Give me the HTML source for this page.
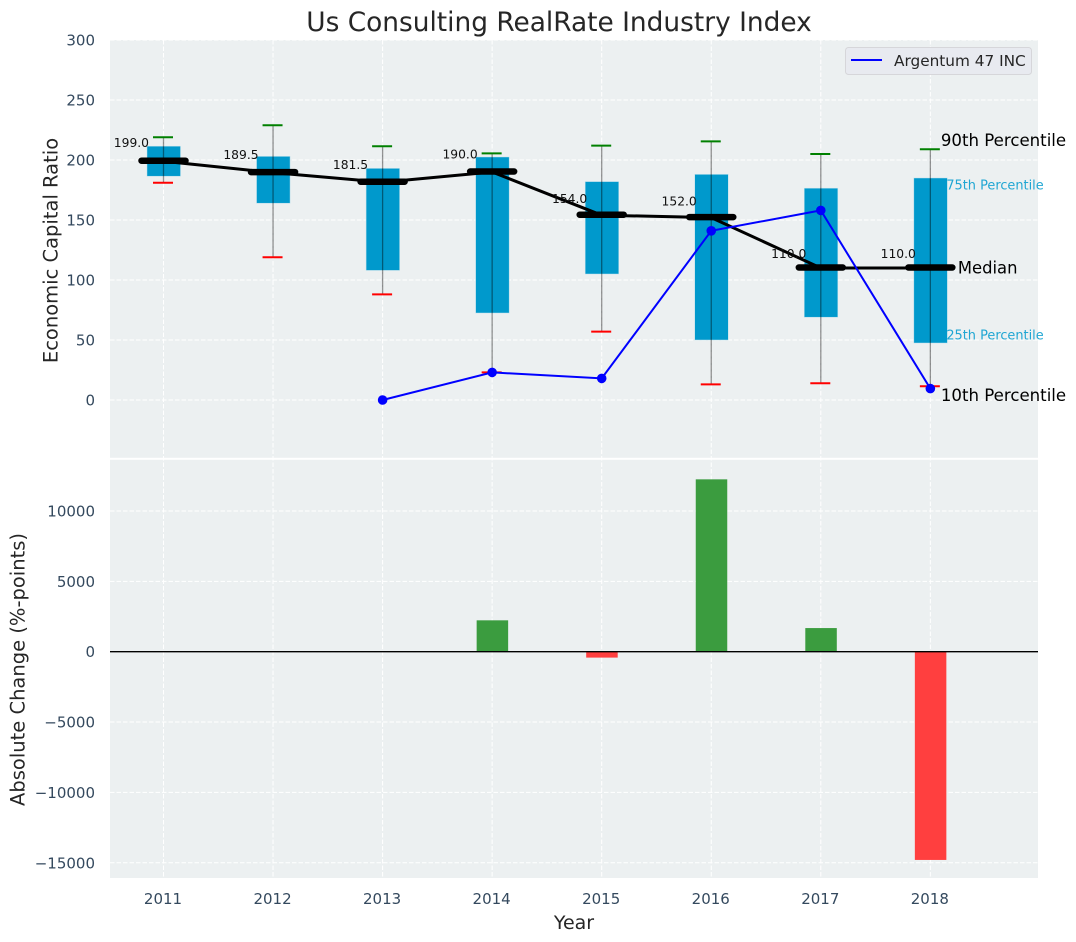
<!DOCTYPE html>
<html lang="en">
<head>
<meta charset="utf-8">
<title>Us Consulting RealRate Industry Index</title>
<style>
html,body{margin:0;padding:0;background:#fff;}
svg{display:block;font-family:"DejaVu Sans","Liberation Sans",sans-serif;}
</style>
</head>
<body>
<svg id="chart" xmlns="http://www.w3.org/2000/svg" width="1076" height="942" viewBox="0 0 1076 942">
  <rect x="0" y="0" width="1076" height="942" fill="#ffffff"/>
  <text x="559" y="31" text-anchor="middle" font-size="26.4" fill="#262626">Us Consulting RealRate Industry Index</text>
  <rect x="110" y="40" width="928" height="417.8" fill="#ecf0f1"/>
  <rect x="110" y="459.8" width="928" height="418.2" fill="#ecf0f1"/>
  <g id="grid"></g>
  <g id="bars"></g>
  <g id="boxes"></g>
  <g id="medians"></g>
  <g id="company"></g>
  <g id="labels"></g>
  <g id="ticks"></g>
  <text transform="translate(57.5,250.5) rotate(-90)" text-anchor="middle" font-size="19.5" fill="#262626">Economic Capital Ratio</text>
  <text transform="translate(24.5,669.5) rotate(-90)" text-anchor="middle" font-size="19.5" fill="#262626">Absolute Change (%-points)</text>
  <text x="574" y="929" text-anchor="middle" font-size="19" fill="#262626">Year</text>
  <g>
    <rect x="845.5" y="47.5" width="186" height="27" rx="3" fill="#e8eaf0" stroke="#d6d6da" stroke-width="1"/>
    <line x1="851" y1="60" x2="882" y2="60" stroke="#0000ff" stroke-width="2"/>
    <text x="894" y="66" font-size="15.3" fill="#262626">Argentum 47 INC</text>
  </g>
</svg>
<script>
const years = [2011, 2012, 2013, 2014, 2015, 2016, 2017, 2018];
const p90 = [219, 229, 211.5, 205.5, 212, 215.5, 205, 209];
const p75 = [211.5, 203, 193, 202.5, 182, 188, 176.5, 185];
const medianValues = [199, 189.5, 181.5, 190, 154, 152, 110, 110];
const p25 = [186.5, 164, 108, 72.5, 105, 50, 69, 47.5];
const p10 = [181, 119, 88, 23, 57, 13, 14, 11.5];
const companyYears = [2013, 2014, 2015, 2016, 2017, 2018];
const companyValues = [0, 23, 18, 141, 158, 9.5];
const changeYears = [2014, 2015, 2016, 2017, 2018];
const changeValues = [2230, -420, 12250, 1680, -14800];
const topTicks = [0, 50, 100, 150, 200, 250, 300];
const bottomTicks = [-15000, -10000, -5000, 0, 5000, 10000];

const NS = 'http://www.w3.org/2000/svg';
const xScale = function (v) { return 163.5 + (v - 2011) * 109.55; };
const yTop = function (v) { return 400 - v * 1.2; };
const yBottom = function (v) { return 651.7 - v * 0.01407; };

function make(parent, tag, attrs, text) {
  const el = document.createElementNS(NS, tag);
  for (const k in attrs) { el.setAttribute(k, attrs[k]); }
  if (text !== undefined) { el.textContent = text; }
  document.getElementById(parent).appendChild(el);
  return el;
}
const DASH = '4.5 2';
const TICK_SIZE = 15;
years.forEach(function (y) {
  const gridX = make('grid', 'line', {x1: xScale(y), x2: xScale(y), y1: 40, y2: 878, stroke: '#ffffff', 'stroke-width': 1, 'stroke-dasharray': DASH});
  
  
  const label = make('ticks', 'text', {x: xScale(y) - 0.5, y: 904, 'text-anchor': 'middle', 'font-size': TICK_SIZE, fill: '#34495e'}, String(y));
  
  
});
topTicks.forEach(function (t) {
  const gridY = make('grid', 'line', {x1: 110, x2: 1038, y1: yTop(t), y2: yTop(t), stroke: '#ffffff', 'stroke-width': 1, 'stroke-dasharray': DASH});
  
  
  const label = make('ticks', 'text', {x: 95, y: yTop(t) + 5.5, 'text-anchor': 'end', 'font-size': TICK_SIZE, fill: '#34495e'}, String(t));
  
  
});
bottomTicks.forEach(function (t) {
  const gridY = make('grid', 'line', {x1: 110, x2: 1038, y1: yBottom(t), y2: yBottom(t), stroke: '#ffffff', 'stroke-width': 1, 'stroke-dasharray': DASH});
  
  
  const label = make('ticks', 'text', {x: 95, y: yBottom(t) + 5.5, 'text-anchor': 'end', 'font-size': TICK_SIZE, fill: '#34495e'}, String(t).replace('-', '\u2212'));
  
  
});

changeValues.forEach(function (v, i) {
  const top = yBottom(Math.max(v, 0));
  const bottom = yBottom(Math.min(v, 0));
  const bar = make('bars', 'rect', {x: xScale(changeYears[i]) - 15.5, y: top, width: 31.5, height: bottom - top, fill: v >= 0 ? '#3b9c3f' : '#ff3f3f'});
  
  
});
const zeroLine = make('bars', 'line', {x1: 110, x2: 1038, y1: yBottom(0), y2: yBottom(0), stroke: '#000000', 'stroke-width': 1.3});



years.forEach(function (y, i) {
  const cx = xScale(y);
  const box = make('boxes', 'rect', {x: cx - 16.5, y: yTop(p75[i]), width: 33.5, height: yTop(p25[i]) - yTop(p75[i]), fill: '#0099cc', stroke: '#b9dfec', 'stroke-width': 0.5});
  
  
  const whisker = make('boxes', 'line', {x1: cx, x2: cx, y1: yTop(p90[i]), y2: yTop(p10[i]), stroke: '#000000', 'stroke-opacity': 0.42, 'stroke-width': 1.3});
  
  
  const capHigh = make('boxes', 'line', {x1: cx - 10.5, x2: cx + 9.5, y1: yTop(p90[i]), y2: yTop(p90[i]), stroke: '#008000', 'stroke-width': 2});
  
  
  const capLow = make('boxes', 'line', {x1: cx - 10.5, x2: cx + 9.5, y1: yTop(p10[i]), y2: yTop(p10[i]), stroke: '#ff0000', 'stroke-width': 2});
  
  
});

const medianPoints = years.map(function (y, i) { return xScale(y) + ',' + yTop(medianValues[i]); }).join(' ');
const medianLine = make('medians', 'polyline', {points: medianPoints, fill: 'none', stroke: '#000000', 'stroke-width': 3});


years.forEach(function (y, i) {
  const cx = xScale(y);
  const cy = yTop(medianValues[i]);
  const bar = make('medians', 'line', {x1: cx - 22, x2: cx + 22, y1: cy - 0.5, y2: cy - 0.5, stroke: '#000000', 'stroke-width': 6.5, 'stroke-linecap': 'round'});
  
  
  const value = make('medians', 'text', {x: cx - 49.7, y: cy - (5 + 0.046 * medianValues[i]), 'font-size': 12.3, fill: '#111111'}, medianValues[i].toFixed(1));
  
  
});

const companyPoints = companyYears.map(function (y, i) { return xScale(y) + ',' + yTop(companyValues[i]); }).join(' ');
const companyLine = make('company', 'polyline', {points: companyPoints, fill: 'none', stroke: '#0000ff', 'stroke-width': 2});


companyYears.forEach(function (y, i) {
  const dot = make('company', 'circle', {cx: xScale(y), cy: yTop(companyValues[i]), r: 4.8, fill: '#0000ff'});
  
  
});

const last = years.length - 1;
const lastX = xScale(years[last]);
const label90 = make('labels', 'text', {x: lastX + 10.5, y: yTop(p90[last]) - 3, 'font-size': 16.6, fill: '#000000'}, '90th Percentile');


const label75 = make('labels', 'text', {x: lastX + 16, y: yTop(p75[last]) + 11.5, 'font-size': 12.9, fill: '#1fa6d3'}, '75th Percentile');


const labelMedian = make('labels', 'text', {x: lastX + 27.5, y: yTop(medianValues[last]) + 5.5, 'font-size': 16.4, fill: '#000000'}, 'Median');


const label25 = make('labels', 'text', {x: lastX + 16, y: yTop(p25[last]) - 3.5, 'font-size': 12.9, fill: '#1fa6d3'}, '25th Percentile');


const label10 = make('labels', 'text', {x: lastX + 10.5, y: yTop(p10[last]) + 15, 'font-size': 16.6, fill: '#000000'}, '10th Percentile');


</script>
</body>
</html>
